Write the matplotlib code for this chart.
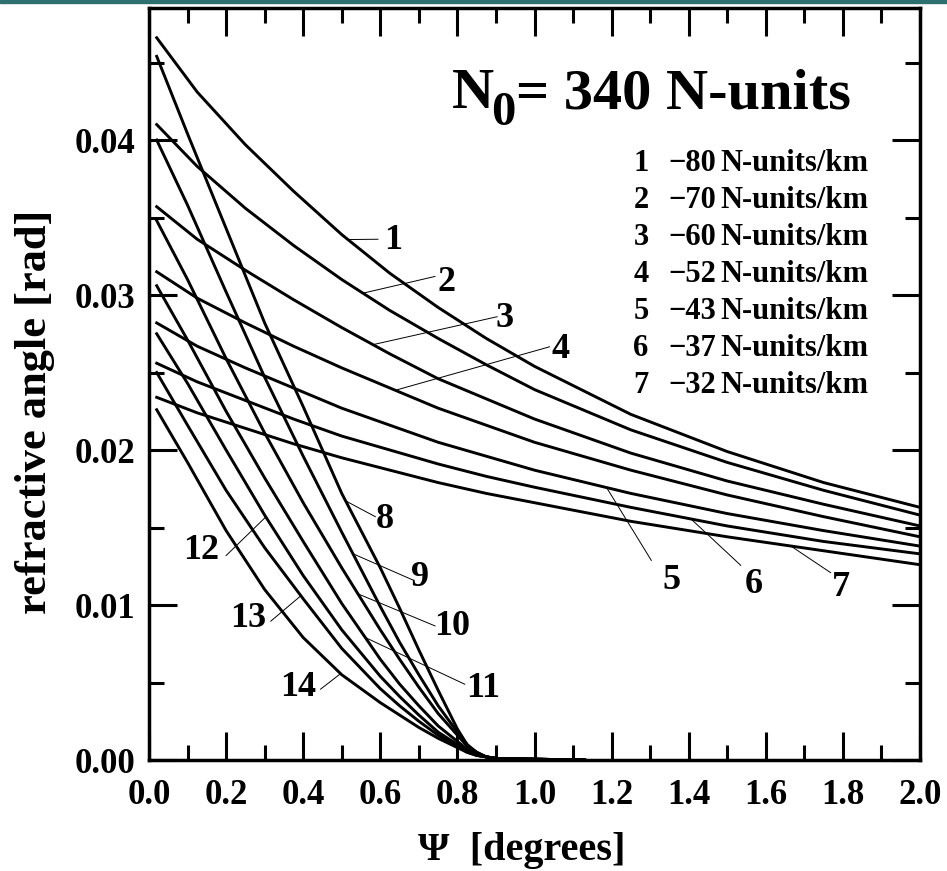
import matplotlib
matplotlib.use('Agg')
import matplotlib.pyplot as plt
import numpy as np
from matplotlib.ticker import MultipleLocator, FormatStrFormatter
from matplotlib.patches import Rectangle

plt.rcParams['font.family'] = ['Liberation Serif', 'DejaVu Serif']
plt.rcParams['font.weight'] = 'bold'

# elevation angle grids, degrees
psi_gentle = [0.02, 0.125, 0.25, 0.375, 0.5, 0.625, 0.75, 0.875, 1.0, 1.25, 1.5, 1.75, 2.0]
psi_steep = [0.02, 0.1, 0.2, 0.3, 0.4, 0.5, 0.6, 0.65, 0.7, 0.75, 0.8, 0.825, 0.85, 0.875,
             0.9, 0.95, 1.0, 1.13]

# refractive angle [rad], curves 1-7
curve_1 = [0.0466, 0.0431, 0.0397, 0.0367, 0.0339, 0.0314, 0.0292, 0.0272, 0.0254, 0.0223, 0.0199, 0.0179, 0.0163]
curve_2 = [0.0410, 0.0383, 0.0356, 0.0332, 0.0310, 0.0290, 0.0272, 0.0255, 0.0239, 0.0213, 0.0192, 0.0174, 0.0158]
curve_3 = [0.0357, 0.0336, 0.0316, 0.0297, 0.0279, 0.0262, 0.0246, 0.0233, 0.0220, 0.0198, 0.0180, 0.0165, 0.0151]
curve_4 = [0.0315, 0.0298, 0.0282, 0.0267, 0.0253, 0.0240, 0.0227, 0.0216, 0.0205, 0.0187, 0.0171, 0.0157, 0.0144]
curve_5 = [0.0282, 0.0267, 0.0253, 0.0240, 0.0227, 0.0216, 0.0205, 0.0196, 0.0187, 0.0172, 0.0159, 0.0148, 0.0138]
curve_6 = [0.0256, 0.0244, 0.0232, 0.0220, 0.0209, 0.0200, 0.0191, 0.0183, 0.0176, 0.0163, 0.0151, 0.0141, 0.0133]
curve_7 = [0.0234, 0.0224, 0.0214, 0.0204, 0.0195, 0.0187, 0.0179, 0.0172, 0.0166, 0.0154, 0.0144, 0.0135, 0.0126]

# curves 8-14
curve_8 = [0.0454, 0.0404, 0.0343, 0.0282, 0.0228, 0.0172, 0.0124, 0.0098, 0.0071, 0.0045, 0.0020,
           0.0010, 0.0004, 0.0002, 0.0001, 0.00007, 0.00005, 0.0]
curve_9 = [0.0400, 0.0358, 0.0302, 0.0247, 0.0196, 0.0147, 0.0099, 0.0076, 0.0055, 0.0035, 0.0018,
           0.0010, 0.0005, 0.0002, 0.0001, 0.00007, 0.00005, 0.0]
curve_10 = [0.0348, 0.0310, 0.0259, 0.0211, 0.0166, 0.0124, 0.0084, 0.0065, 0.0047, 0.0030, 0.0016,
            0.0009, 0.0005, 0.0002, 0.0001, 0.00007, 0.00005, 0.0]
curve_11 = [0.0306, 0.0271, 0.0225, 0.0182, 0.0141, 0.0101, 0.0065, 0.0049, 0.0035, 0.0022, 0.0012,
            0.0007, 0.0004, 0.0002, 0.0001, 0.00007, 0.00005, 0.0]
curve_12 = [0.0275, 0.0243, 0.0200, 0.0158, 0.0119, 0.0084, 0.0054, 0.0041, 0.0029, 0.0018, 0.0010,
            0.0006, 0.0003, 0.0002, 0.0001, 0.00007, 0.00005, 0.0]
curve_13 = [0.0250, 0.0216, 0.0174, 0.0137, 0.0104, 0.0072, 0.0046, 0.0035, 0.0025, 0.0016, 0.0009,
            0.0005, 0.0003, 0.0002, 0.0001, 0.00007, 0.00005, 0.0]
curve_14 = [0.0226, 0.0192, 0.0148, 0.0110, 0.0079, 0.0055, 0.0037, 0.0029, 0.0021, 0.0014, 0.0008,
            0.0005, 0.0003, 0.0002, 0.0001, 0.00007, 0.00005, 0.0]

gentle_curves = [curve_1, curve_2, curve_3, curve_4, curve_5, curve_6, curve_7]
steep_curves = [curve_8, curve_9, curve_10, curve_11, curve_12, curve_13, curve_14]

gradients = ['\u221280', '\u221270', '\u221260', '\u221252', '\u221243', '\u221237', '\u221232']

# number labels: text position, leader start (psi on the curve), leader end
label_pos = [(0.632, 0.0335), (0.772, 0.0308), (0.923, 0.0285), (1.068, 0.0265),
             (1.355, 0.0116), (1.568, 0.0113), (1.794, 0.0111),
             (0.613, 0.0155), (0.703, 0.0118), (0.787, 0.0086), (0.867, 0.0046),
             (0.135, 0.0135), (0.258, 0.0091), (0.387, 0.0047)]
leader_psi = [0.516, 0.555, 0.581, 0.639, 1.187, 1.406, 1.665,
              0.51, 0.529, 0.542, 0.561, 0.303, 0.394, 0.497]
leader_end = [(0.594, 0.0336), (0.742, 0.0312), (0.903, 0.0286), (1.039, 0.02666),
              (1.303, 0.01288), (1.535, 0.01256), (1.768, 0.01209),
              (0.587, 0.0157), (0.684, 0.01162), (0.742, 0.00865), (0.819, 0.00489),
              (0.2, 0.01319), (0.316, 0.00896), (0.445, 0.00457)]

fig = plt.figure(figsize=(9.47, 8.71), dpi=100)
ax = fig.add_axes([149 / 947, 1 - 760 / 871, 771 / 947, 752 / 871])

# thin teal strip along the top edge
fig.patches.append(Rectangle((0, 1 - 3 / 871), 1, 3 / 871, transform=fig.transFigure,
                             color='#2E6F70', zorder=5))

for vals in gentle_curves:
    ax.plot(psi_gentle, vals, color='black', lw=2.1, solid_joinstyle='round')
for vals in steep_curves:
    ax.plot(psi_steep, vals, color='black', lw=2.1, solid_joinstyle='round')

all_curves = [(psi_gentle, c) for c in gentle_curves] + [(psi_steep, c) for c in steep_curves]
for i, (px, vals) in enumerate(all_curves):
    x0 = leader_psi[i]
    y0 = np.interp(x0, px, vals)
    x1, y1 = leader_end[i]
    ax.plot([x0, x1], [y0, y1], color='black', lw=0.7)
    ax.text(label_pos[i][0], label_pos[i][1], str(i + 1), fontsize=26,
            ha='center', va='center')

# legend block
for i, g in enumerate(gradients):
    y = 0.793 - 0.0492 * i
    ax.text(0.638, y, str(i + 1), transform=ax.transAxes, fontsize=22, ha='center', va='center')
    ax.text(0.7354, y, g, transform=ax.transAxes, fontsize=22, ha='right', va='center')
    ax.text(0.741, y, 'N-units/km', transform=ax.transAxes, fontsize=22, ha='left', va='center')

# header
ax.text(0.393, 0.867, 'N', transform=ax.transAxes, fontsize=42, ha='left', va='baseline')
ax.text(0.444, 0.845, '0', transform=ax.transAxes, fontsize=35, ha='left', va='baseline')
ax.text(0.476, 0.867, '= 340 N-units', transform=ax.transAxes, fontsize=42, ha='left', va='baseline')

ax.set_xlim(0, 2.0)
ax.set_ylim(0, 0.04852)
ax.xaxis.set_major_locator(MultipleLocator(0.2))
ax.xaxis.set_minor_locator(MultipleLocator(0.1))
ax.yaxis.set_major_locator(MultipleLocator(0.01))
ax.yaxis.set_minor_locator(MultipleLocator(0.005))
ax.xaxis.set_major_formatter(FormatStrFormatter('%.1f'))
ax.yaxis.set_major_formatter(FormatStrFormatter('%.2f'))

ax.tick_params(which='both', direction='in', top=True, right=True, width=2.2, labelsize=25)
ax.tick_params(which='major', length=20)
ax.tick_params(which='minor', length=11)
ax.tick_params(axis='x', pad=14)
ax.tick_params(axis='y', pad=10)
for s in ax.spines.values():
    s.set_linewidth(2.5)

ax.text(0.484, -0.121, '\u03a8  [degrees]', transform=ax.transAxes, fontsize=29,
        fontweight='bold', ha='center', va='center')
ax.text(-0.148, 0.463, 'refractive angle [rad]', transform=ax.transAxes, fontsize=32,
        fontweight='bold', ha='center', va='center', rotation=90)

fig.savefig('out.png', dpi=100)
